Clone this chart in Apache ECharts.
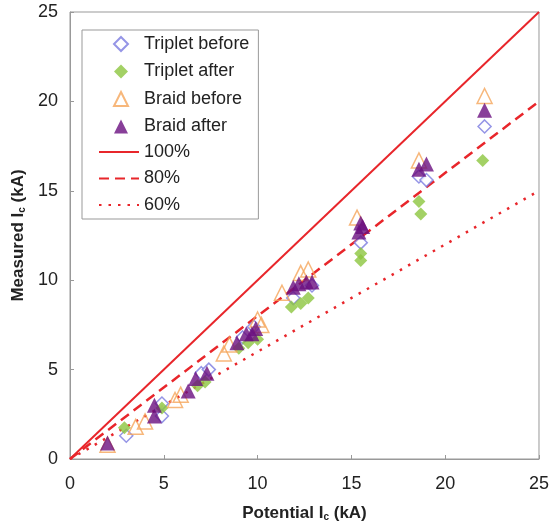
<!DOCTYPE html>
<html><head><meta charset="utf-8">
<script src="https://cdn.jsdelivr.net/npm/echarts@6/dist/echarts.min.js"></script>
<style>html,body{margin:0;padding:0;background:#fff}#c{width:552px;height:527px}</style>
</head><body><div id="c"></div>
<script>
const xTicks = [0,5,10,15,20,25];
const yTicks = [0,5,10,15,20,25];
const tripletBefore = [[3.0,1.3],[4.9,2.4],[4.9,3.1],[7.0,4.8],[7.4,5.0],[9.2,6.8],[9.8,7.4],[11.9,9.0],[12.9,9.7],[15.5,12.1],[18.6,15.8],[19.0,15.6],[22.1,18.6]];
const tripletAfter = [[2.9,1.75],[4.9,2.85],[6.8,4.1],[7.2,4.3],[9.0,6.2],[9.5,6.5],[10.0,6.7],[11.8,8.5],[12.3,8.7],[12.7,9.0],[15.5,11.5],[15.5,11.1],[18.6,14.4],[18.7,13.7],[22.0,16.7]];
const braidBefore = [[2.0,0.8],[3.5,1.8],[4.0,2.1],[5.6,3.3],[5.9,3.6],[8.2,5.9],[8.5,6.4],[10.0,7.8],[10.2,7.5],[11.3,9.3],[12.3,10.4],[12.7,10.6],[15.3,13.5],[18.6,16.7],[22.1,20.3]];
const braidAfter = [[2.0,0.9],[4.5,2.4],[4.5,3.0],[6.3,3.8],[6.7,4.5],[7.3,4.8],[8.9,6.5],[9.4,7.0],[9.7,7.0],[9.9,7.3],[11.9,9.6],[12.2,9.8],[12.6,9.9],[12.9,9.9],[15.4,12.7],[15.6,13.0],[15.5,13.2],[18.6,16.2],[19.0,16.5],[22.1,19.5]];
const line100 = [[0,0],[25,25]];
const line80 = [[0,0],[25,20]];
const line60 = [[0,0],[25,15]];
const pointNames = ['Triplet before','Triplet after','Braid before','Braid after'];
const lineNames = ['100%','80%','60%'];

const FONT = 'Liberation Sans, Arial, sans-serif';
const RED = '#e8262b';
const TXT = '#222';
const chart = echarts.init(document.getElementById('c'));
chart.setOption({
  animation: false,
  textStyle: {fontFamily: FONT},
  grid: {left: 70, right: 11, top: 12, bottom: 68, show: true, borderColor: '#999', borderWidth: 1},
  legend: [{
    left: 82, top: 30, orient: 'vertical',
    backgroundColor: '#fff', borderColor: '#999', borderWidth: 1,
    padding: [5, 9, 83.5, 31],
    itemWidth: 14, itemHeight: 14, itemGap: 9.5,
    textStyle: {fontSize: 18, color: TXT, fontFamily: FONT, padding: [0, 0, 0, 11]},
    data: pointNames, z: 4
  }, {
    left: 82, top: 143, orient: 'vertical',
    padding: [0, 0, 0, 16],
    itemWidth: 40, itemHeight: 14, itemGap: 8.5,
    itemStyle: {opacity: 0},
    textStyle: {fontSize: 18, color: TXT, fontFamily: FONT},
    data: lineNames, z: 5
  }],
  xAxis: {
    type: 'value', min: 0, max: 25, interval: 5,
    name: 'Potential I{sub|c} (kA)', nameLocation: 'middle', nameGap: 46,
    nameTextStyle: {fontSize: 17, fontWeight: 'bold', color: TXT, fontFamily: FONT,
      rich: {sub: {fontSize: 10, fontWeight: 'bold', verticalAlign: 'bottom', padding: [6,0,0,0], color: TXT}}},
    axisLine: {show: true, onZero: false, lineStyle: {color: '#999'}},
    axisTick: {show: true, inside: true, length: 4, lineStyle: {color: '#999'}},
    axisLabel: {fontSize: 18, color: TXT, margin: 16, fontFamily: FONT},
    splitLine: {show: false}
  },
  yAxis: {
    type: 'value', min: 0, max: 25, interval: 5,
    name: 'Measured I{sub|c} (kA)', nameLocation: 'middle', nameGap: 36, nameRotate: 90,
    nameTextStyle: {fontSize: 17, fontWeight: 'bold', color: TXT, fontFamily: FONT,
      rich: {sub: {fontSize: 10, fontWeight: 'bold', verticalAlign: 'bottom', padding: [6,0,0,0], color: TXT}}},
    axisLine: {show: true, onZero: false, lineStyle: {color: '#999'}},
    axisTick: {show: true, inside: true, length: 4, lineStyle: {color: '#999'}},
    axisLabel: {fontSize: 18, color: TXT, margin: 12, fontFamily: FONT},
    splitLine: {show: false}
  },
  series: [
    {name: '100%', type: 'line', data: line100, symbol: 'none', lineStyle: {color: RED, width: 2, type: 'solid'}, itemStyle: {color: RED}, z: 1},
    {name: '80%', type: 'line', data: line80, symbol: 'none', lineStyle: {color: RED, width: 2.5, type: [10, 6]}, itemStyle: {color: RED}, z: 1},
    {name: '60%', type: 'line', data: line60, symbol: 'none', lineStyle: {color: RED, width: 2.5, type: [2.5, 7]}, itemStyle: {color: RED}, z: 1},
    {name: 'Triplet before', type: 'scatter', data: tripletBefore, symbol: 'diamond', symbolSize: 13,
      itemStyle: {color: '#fff', borderColor: '#7b7be0', borderWidth: 1.5}, z: 3},
    {name: 'Triplet after', type: 'scatter', data: tripletAfter, symbol: 'diamond', symbolSize: 13,
      itemStyle: {color: '#8cc63f'}, z: 3},
    {name: 'Braid before', type: 'scatter', data: braidBefore, symbol: 'triangle', symbolSize: 15,
      itemStyle: {color: 'rgba(255,255,255,0)', borderColor: '#f5a55a', borderWidth: 1.5}, z: 3},
    {name: 'Braid after', type: 'scatter', data: braidAfter, symbol: 'triangle', symbolSize: 15,
      itemStyle: {color: '#6a0f80'}, z: 3}
  ]
});
</script></body></html>
